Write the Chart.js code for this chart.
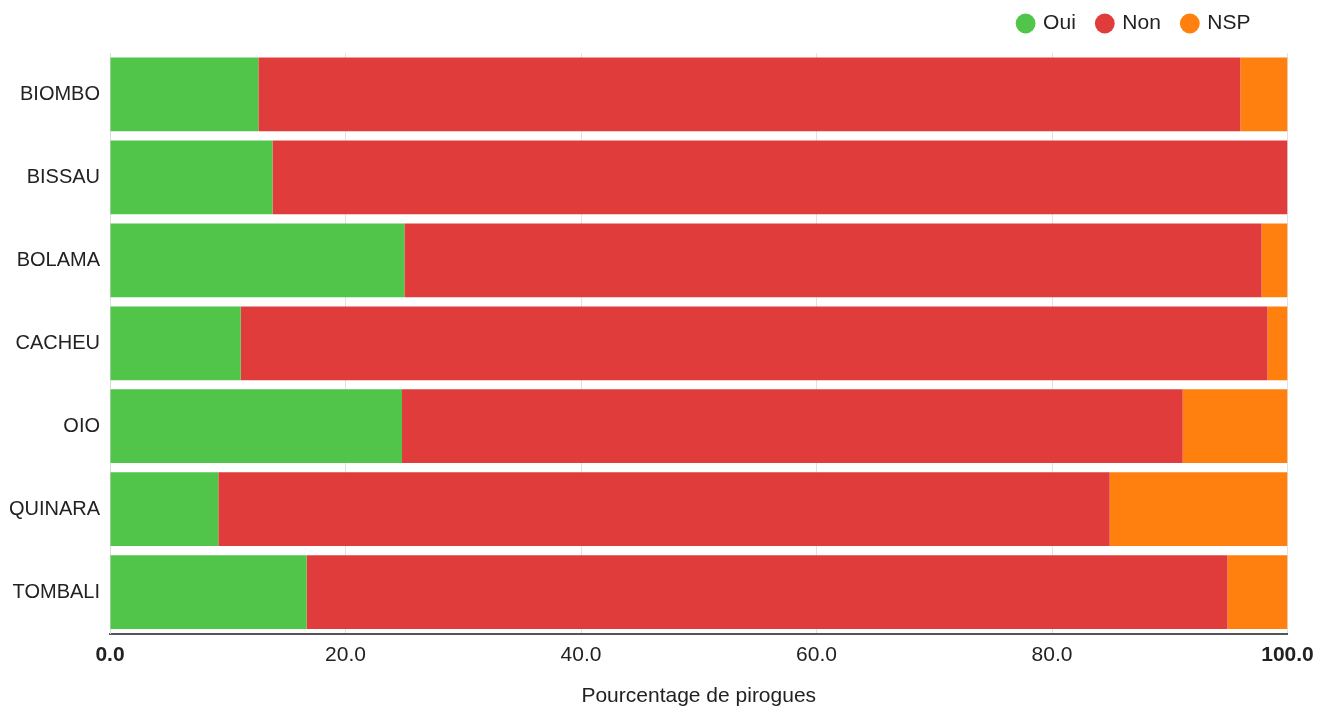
<!DOCTYPE html>
<html lang="en">
<head>
    <meta charset="UTF-8">
    <title>Pourcentage de pirogues</title>
    <script src="https://cdn.jsdelivr.net/npm/chart.js"></script>
    <style>
        html, body { margin: 0; padding: 0; background: #fff; }
        #wrap { width: 1317px; height: 714px; }
    </style>
</head>
<body>
    <div id="wrap"><canvas id="chart"></canvas></div>

    <script>
        const regions = ['BIOMBO', 'BISSAU', 'BOLAMA', 'CACHEU', 'OIO', 'QUINARA', 'TOMBALI'];
        const oui = [12.6, 13.8, 25.0, 11.1, 24.8, 9.2, 16.7];
        const non = [83.4, 86.2, 72.8, 87.2, 66.3, 75.7, 78.2];
        const nsp = [4.0, 0.0, 2.2, 1.7, 8.9, 15.1, 5.1];
        const xTicks = [0, 20, 40, 60, 80, 100];

        const font = 'Arial, "Liberation Sans", sans-serif';

        // legend sits a little left of the plot edge and tight to the top
        const legendShift = {
            id: 'legendShift',
            afterLayout(chart) {
                const lg = chart.legend;
                lg.left -= 15;
                lg.right -= 15;
                lg.top -= 9;
                lg.bottom -= 9;
            }
        };

        new Chart(document.getElementById('chart'), {
            type: 'bar',
            data: {
                labels: regions,
                datasets: [
                    { label: 'Oui', data: oui, backgroundColor: '#50c54a' },
                    { label: 'Non', data: non, backgroundColor: '#e03c3c' },
                    { label: 'NSP', data: nsp, backgroundColor: '#ff800f' }
                ]
            },
            plugins: [legendShift],
            options: {
                indexAxis: 'y',
                responsive: true,
                maintainAspectRatio: false,
                animation: false,
                layout: { padding: { left: 0, right: 29.5, top: 0, bottom: 5 } },
                datasets: {
                    bar: { barPercentage: 0.889, categoryPercentage: 1.0, borderWidth: 0 }
                },
                plugins: {
                    tooltip: { enabled: false },
                    legend: {
                        position: 'top',
                        align: 'end',
                        labels: {
                            usePointStyle: true,
                            pointStyle: 'circle',
                            boxWidth: 14,
                            boxHeight: 14,
                            padding: 22,
                            color: '#222',
                            font: { family: font, size: 21 }
                        }
                    }
                },
                scales: {
                    x: {
                        stacked: true,
                        min: 0,
                        max: 100,
                        afterBuildTicks: (axis) => { axis.ticks = xTicks.map(v => ({ value: v })); },
                        afterFit: (axis) => { axis.paddingRight = 0; },
                        grid: { color: '#e2e2e2', drawTicks: false },
                        border: { color: '#555', width: 2 },
                        ticks: {
                            padding: 9,
                            color: '#222',
                            callback: (v) => Number(v).toFixed(1),
                            font: (ctx) => ({
                                family: font,
                                size: 21,
                                weight: (ctx.index === 0 || ctx.index === xTicks.length - 1) ? 'bold' : 'normal'
                            })
                        },
                        title: {
                            display: true,
                            text: 'Pourcentage de pirogues',
                            color: '#222',
                            padding: { top: 7, bottom: 0 },
                            font: { family: font, size: 21 }
                        }
                    },
                    y: {
                        stacked: true,
                        grid: { display: false },
                        border: { color: '#ddd', width: 1 },
                        afterFit: (axis) => { axis.width = 110; },
                        ticks: {
                            padding: 2,
                            color: '#222',
                            font: { family: font, size: 20 }
                        }
                    }
                }
            }
        });
    </script>
</body>
</html>
